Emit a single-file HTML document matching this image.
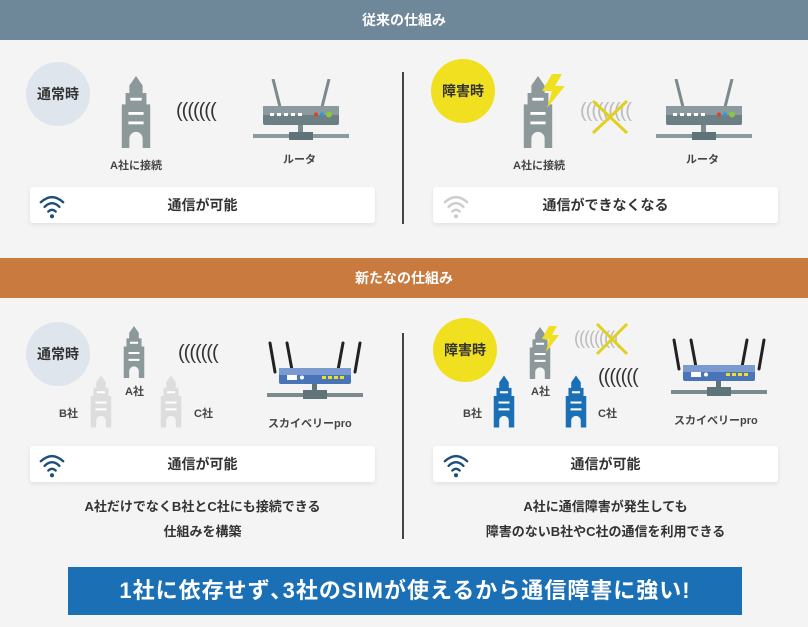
<!DOCTYPE html>
<html><head><meta charset="utf-8"><style>
body{margin:0;width:808px;height:627px;background:#f4f4f4;position:relative;overflow:hidden;font-family:"Liberation Sans","Noto Sans CJK JP",sans-serif;color:#333}
.a{position:absolute}
.bar{left:0;width:808px;height:40px;color:#fff;font-size:14px;font-weight:bold;text-align:center;line-height:40px}
.circ{width:64px;height:64px;border-radius:50%;text-align:center;line-height:64px;font-size:14px;font-weight:bold;color:#333}
.box{background:#fff;height:36px;border-radius:3px;box-shadow:0 2px 5px rgba(0,0,0,.08);font-size:14px;font-weight:bold;text-align:center;line-height:36px;width:345px}
.lbl{font-size:11px;font-weight:bold;color:#444;white-space:nowrap}
.wave{font-size:20px;letter-spacing:-1px;color:#333;white-space:nowrap}
.t{font-size:13px;font-weight:bold;text-align:center;line-height:25px;width:345px}
</style></head><body>
<svg width="0" height="0" style="position:absolute">
<defs>
<symbol id="bld" viewBox="0 0 38 76"><path d="M19 0L26 10V18H30V30H34V76H26V66A7 7 0 0 0 12 66V76H4V30H8V18H12V10Z"/><rect x="13" y="23" width="12" height="3" fill="#fff"/><rect x="11" y="38" width="16" height="3" fill="#fff"/><rect x="11" y="48" width="16" height="3" fill="#fff"/></symbol>
<symbol id="wifi" viewBox="0 0 30 30"><g fill="none" stroke-width="2.5" stroke-linecap="round"><path d="M3 11Q15 0 27 11"/><path d="M7 16Q15 8 23 16"/><path d="M11 21Q15 17 19 21"/></g><circle cx="15" cy="26" r="2.2" stroke="none"/></symbol>
<symbol id="rt" viewBox="0 0 96 64"><path d="M20 0L27 28M76 0L69 28" stroke="#7a8a8e" stroke-width="3"/><rect x="10" y="27" width="76" height="19" rx="2" fill="#6b7f84"/><rect x="10" y="27" width="76" height="9" fill="#8a9a9e"/><g fill="#fff"><rect x="17" y="34" width="4" height="3"/><rect x="24" y="34" width="4" height="3"/><rect x="31" y="34" width="4" height="3"/><rect x="38" y="34" width="4" height="3"/><rect x="45" y="34" width="4" height="3"/></g><circle cx="63" cy="35.5" r="2" fill="#e04020"/><circle cx="69" cy="35.5" r="2" fill="#2a9ad8"/><circle cx="76" cy="35.5" r="3" fill="#8cc63f"/><rect x="45" y="46" width="5" height="10" fill="#7a8a8e"/><rect x="0" y="55" width="96" height="4" fill="#8a9a9e"/><rect x="36" y="53" width="24" height="8" fill="#5f7378"/></symbol>
<symbol id="rp" viewBox="0 0 96 60"><g stroke="#222" stroke-width="3" stroke-linecap="round"><path d="M3 3L8 32M20 3L25 30M76 3L71 30M93 3L88 32"/></g><rect x="12" y="28" width="72" height="16" rx="2" fill="#4a74b8"/><rect x="12" y="28" width="72" height="7" fill="#7a9ad0"/><rect x="20" y="35" width="10" height="5" fill="#fff"/><circle cx="35" cy="37.5" r="2" fill="#fff"/><g fill="#f0e020"><rect x="55" y="36" width="4" height="3"/><rect x="61" y="36" width="4" height="3"/><rect x="67" y="36" width="4" height="3"/><rect x="73" y="36" width="4" height="3"/></g><rect x="45" y="44" width="5" height="10" fill="#5f7378"/><rect x="0" y="53" width="96" height="4" fill="#7a8a8e"/><rect x="36" y="50" width="24" height="9" fill="#5f7378"/></symbol>
</defs></svg>

<div class="a bar" style="top:0;background:#6e8799">従来の仕組み</div>
<div class="a bar" style="top:258;top:258px;background:#c97a3e">新たなの仕組み</div>

<!-- top left -->
<div class="a circ" style="left:26px;top:62px;background:#dfe5ec">通常時</div>
<svg class="a" style="left:118px;top:74px" width="36" height="76" fill="#8c9899"><use href="#bld"/></svg>
<div class="a lbl" style="left:110px;top:157px">A社に接続</div>
<div class="a wave" style="left:176px;top:100px">(((((((</div>
<svg class="a" style="left:253px;top:79px" width="96" height="64"><use href="#rt"/></svg>
<div class="a lbl" style="left:283px;top:151px">ルータ</div>
<div class="a box" style="left:30px;top:187px">通信が可能</div>
<svg class="a" style="left:38px;top:192px" width="28" height="28" fill="#1c4f7a" stroke="#1c4f7a"><use href="#wifi"/></svg>

<div class="a" style="left:402px;top:72px;width:2px;height:152px;background:#444"></div>

<!-- top right -->
<div class="a circ" style="left:431px;top:59px;background:#f0e020">障害時</div>
<svg class="a" style="left:520px;top:74px" width="36" height="76" fill="#8c9899"><use href="#bld"/></svg>
<svg class="a" style="left:538px;top:74px" width="30" height="34"><path d="M14 0L24 0L17 12L27 12L9 34L14 17L4 17Z" fill="#f0e020"/></svg>
<div class="a lbl" style="left:513px;top:157px">A社に接続</div>
<div class="a wave" style="left:580px;top:100px;color:#bbb">(((((((((</div>
<svg class="a" style="left:590px;top:98px" width="40" height="38"><path d="M3 3L37 35M37 3L3 35" stroke="#e0d020" stroke-width="3"/></svg>
<svg class="a" style="left:656px;top:79px" width="96" height="64"><use href="#rt"/></svg>
<div class="a lbl" style="left:686px;top:151px">ルータ</div>
<div class="a box" style="left:433px;top:187px">通信ができなくなる</div>
<svg class="a" style="left:442px;top:192px" width="28" height="28" fill="#ccc" stroke="#ccc"><use href="#wifi"/></svg>

<!-- bottom left -->
<div class="a circ" style="left:26px;top:322px;background:#dfe5ec">通常時</div>
<svg class="a" style="left:121px;top:326px" width="26" height="52" fill="#8c9899"><use href="#bld"/></svg>
<div class="a lbl" style="left:125px;top:383px">A社</div>
<svg class="a" style="left:88px;top:375px" width="26" height="53" fill="#ddd"><use href="#bld"/></svg>
<div class="a lbl" style="left:59px;top:405px">B社</div>
<svg class="a" style="left:158px;top:375px" width="26" height="53" fill="#ddd"><use href="#bld"/></svg>
<div class="a lbl" style="left:194px;top:405px">C社</div>
<div class="a wave" style="left:178px;top:342px">(((((((</div>
<svg class="a" style="left:267px;top:340px" width="96" height="60"><use href="#rp"/></svg>
<div class="a lbl" style="left:268px;top:415px">スカイベリーpro</div>
<div class="a box" style="left:30px;top:446px">通信が可能</div>
<svg class="a" style="left:38px;top:451px" width="28" height="28" fill="#1c4f7a" stroke="#1c4f7a"><use href="#wifi"/></svg>
<div class="a t" style="left:30px;top:494px">A社だけでなくB社とC社にも接続できる<br>仕組みを構築</div>

<div class="a" style="left:402px;top:333px;width:2px;height:206px;background:#444"></div>

<!-- bottom right -->
<div class="a circ" style="left:433px;top:318px;background:#f0e020">障害時</div>
<svg class="a" style="left:527px;top:327px" width="26" height="52" fill="#8c9899"><use href="#bld"/></svg>
<svg class="a" style="left:540px;top:326px" width="20" height="26"><path d="M9 0L17 0L12 9L19 9L6 26L9 13L2 13Z" fill="#f0e020"/></svg>
<div class="a lbl" style="left:531px;top:383px">A社</div>
<svg class="a" style="left:491px;top:375px" width="26" height="53" fill="#1a6fb5"><use href="#bld"/></svg>
<div class="a lbl" style="left:463px;top:405px">B社</div>
<svg class="a" style="left:563px;top:375px" width="26" height="53" fill="#1a6fb5"><use href="#bld"/></svg>
<div class="a lbl" style="left:598px;top:405px">C社</div>
<div class="a wave" style="left:574px;top:328px;color:#bbb;font-size:18px">(((((((((</div>
<svg class="a" style="left:594px;top:322px" width="36" height="34"><path d="M3 2L33 32M33 2L3 32" stroke="#e0d020" stroke-width="3"/></svg>
<div class="a wave" style="left:598px;top:366px">(((((((</div>
<svg class="a" style="left:671px;top:336px" width="96" height="62"><use href="#rp"/></svg>
<div class="a lbl" style="left:674px;top:412px">スカイベリーpro</div>
<div class="a box" style="left:433px;top:446px">通信が可能</div>
<svg class="a" style="left:442px;top:451px" width="28" height="28" fill="#1c4f7a" stroke="#1c4f7a"><use href="#wifi"/></svg>
<div class="a t" style="left:433px;top:494px">A社に通信障害が発生しても<br>障害のないB社やC社の通信を利用できる</div>

<div class="a" style="left:68px;top:567px;width:674px;height:48px;background:#1a6fb5;color:#fff;font-size:22px;font-weight:bold;text-align:center;line-height:48px;letter-spacing:1px">1社に依存せず､3社のSIMが使えるから通信障害に強い!</div>
</body></html>
